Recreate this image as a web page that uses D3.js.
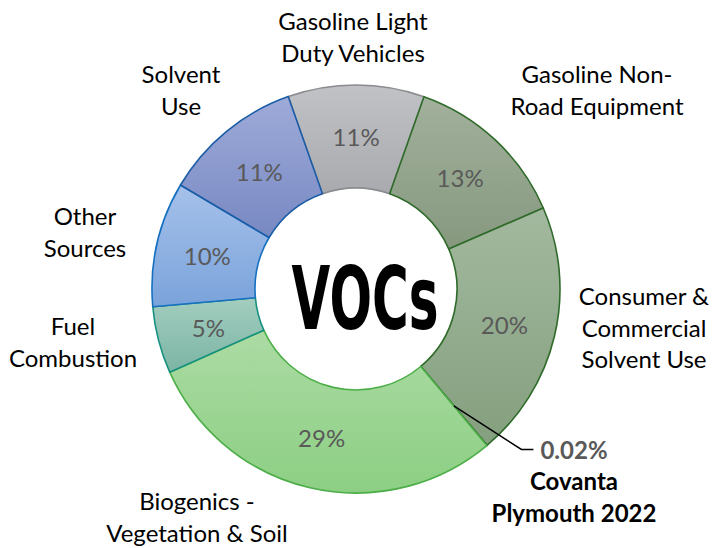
<!DOCTYPE html>
<html>
<head>
<meta charset="utf-8">
<script src="https://cdn.jsdelivr.net/npm/d3@7"></script>
<style>
  html, body { margin: 0; padding: 0; background: #fff; }
  svg { display: block; }
</style>
</head>
<body>
<svg id="chart" width="717" height="548"></svg>
<script>
// ---- data ----
const categories = [
  "Gasoline Light Duty Vehicles",
  "Gasoline Non-Road Equipment",
  "Consumer & Commercial Solvent Use",
  "Covanta Plymouth 2022",
  "Biogenics - Vegetation & Soil",
  "Fuel Combustion",
  "Other Sources",
  "Solvent Use"
];
const shares = [10.8, 13.1, 20.4, 0.02, 29.4, 5.3, 9.9, 11.1];
const labelLines = [
  ["Gasoline Light", "Duty Vehicles"],
  ["Gasoline Non-", "Road Equipment"],
  ["Consumer &", "Commercial", "Solvent Use"],
  ["Covanta", "Plymouth 2022"],
  ["Biogenics -", "Vegetation & Soil"],
  ["Fuel", "Combustion"],
  ["Other", "Sources"],
  ["Solvent", "Use"]
];
const title = "VOCs";

// ---- styles / layout (not data) ----
const gradTop    = ["#c1c2c6", "#a2b09c", "#a3b99f", "#6f8f68", "#acdba4", "#a3cdbf", "#a6c1ea", "#9eabd9"];
const gradBottom = ["#a9aaae", "#86997f", "#849f7e", "#6f8f68", "#8ccf83", "#7bb5a4", "#7aa3db", "#7888c2"];
const strokes    = ["#8a8b8f", "#2f6b2a", "#2f6b2a", "#2f6b2a", "#4cae47", "#14907f", "#1670c0", "#1a5ca6"];
// label anchor (center x, first baseline y)
const labelPos = [
  [353, 30], [597, 83], [644, 305], [574, 490],
  [197, 510], [73, 335], [85, 225], [181, 83]
];
const lineH = 31.5;
const W = 717, H = 548;
const cx = 356, cy = 289, R = 204, r = 101;
const rot = -19.4 * Math.PI / 180;
const fontFam = "Lato, 'Open Sans', sans-serif";
const fs = 24;

const svg = d3.select("#chart");
svg.append("rect").attr("width", W).attr("height", H).attr("fill", "#fff");

const defs = svg.append("defs");
categories.forEach((c, i) => {
  const g = defs.append("linearGradient").attr("id", "g" + i)
    .attr("x1", 0).attr("y1", 0).attr("x2", 0).attr("y2", 1);
  g.append("stop").attr("offset", "0%").attr("stop-color", gradTop[i]);
  g.append("stop").attr("offset", "100%").attr("stop-color", gradBottom[i]);
});

const pie = d3.pie().sort(null).value(d => d).startAngle(rot).endAngle(rot + 2 * Math.PI);
const arcs = pie(shares);
const arc = d3.arc().innerRadius(r).outerRadius(R);

const gChart = svg.append("g").attr("transform", `translate(${cx},${cy})`);
gChart.selectAll("path.slice").data(arcs).enter().append("path")
  .attr("class", "slice")
  .attr("d", arc)
  .attr("fill", (d, i) => `url(#g${i})`)
  .attr("stroke", (d, i) => strokes[i])
  .attr("stroke-width", 1.6)
  .attr("stroke-linejoin", "round");

const fmt = v => v < 1 ? d3.format(".2f")(v) + "%" : Math.round(v) + "%";

// percentage labels inside
gChart.selectAll("text.pct").data(arcs.filter(d => d.data >= 1)).enter().append("text")
  .attr("class", "pct")
  .attr("x", d => arc.centroid(d)[0])
  .attr("y", d => arc.centroid(d)[1])
  .attr("text-anchor", "middle")
  .attr("dominant-baseline", "central")
  .attr("font-family", fontFam)
  .attr("font-size", fs)
  .attr("fill", "#595959")
  .text(d => fmt(d.data));

// category labels
categories.forEach((c, i) => {
  const small = shares[i] < 1;
  const t = svg.append("text")
    .attr("text-anchor", "middle")
    .attr("font-family", fontFam)
    .attr("font-size", fs)
    .attr("font-weight", small ? "bold" : "normal")
    .attr("fill", "#000");
  labelLines[i].forEach((ln, k) => {
    t.append("tspan").attr("x", labelPos[i][0]).attr("y", labelPos[i][1] + k * lineH).text(ln);
  });
  if (small) {
    const vt = svg.append("text")
      .attr("x", labelPos[i][0]).attr("y", labelPos[i][1] - lineH)
      .attr("text-anchor", "middle")
      .attr("font-family", fontFam)
      .attr("font-size", fs)
      .attr("font-weight", "bold")
      .attr("fill", "#595959")
      .text(fmt(shares[i]));
    const bb = vt.node().getBBox();
    const c0 = arc.centroid(arcs[i]);
    const p0 = [cx + c0[0], cy + c0[1]];
    const yL = labelPos[i][1] - lineH - 9;
    const xEnd = bb.x - 7;
    const xElbow = xEnd - 12;
    svg.append("path")
      .attr("d", d3.line()([p0, [xElbow, yL], [xEnd, yL]]))
      .attr("fill", "none")
      .attr("stroke", "#000")
      .attr("stroke-width", 1.5);
  }
});

// center title, horizontally condensed
const tg = svg.append("g").attr("transform", "translate(365,329)");
const tt = tg.append("text")
  .attr("x", 0).attr("y", 0)
  .attr("text-anchor", "middle")
  .attr("font-family", "'DejaVu Sans', sans-serif")
  .attr("font-weight", "bold")
  .attr("font-size", 88)
  .attr("fill", "#000")
  .text(title);
const tw = tt.node().getComputedTextLength();
tg.attr("transform", `translate(365,329) scale(${147 / tw},1)`);
</script>
</body>
</html>
